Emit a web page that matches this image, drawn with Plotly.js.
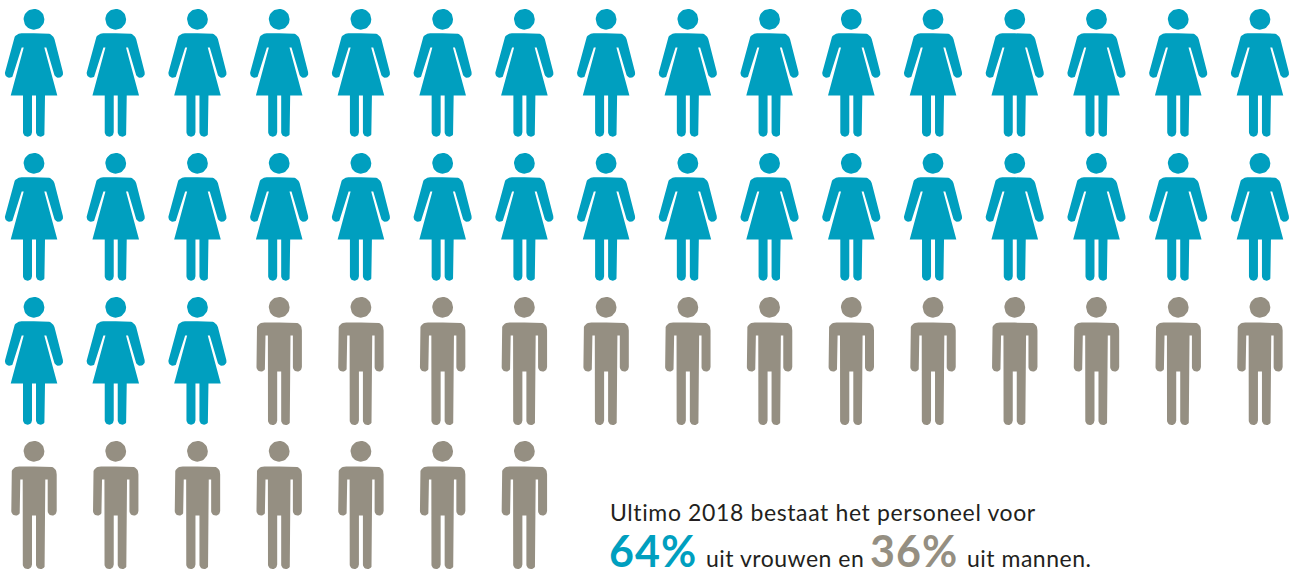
<!DOCTYPE html>
<html>
<head>
<meta charset="utf-8">
<script src="https://cdn.plot.ly/plotly-3.0.1.min.js"></script>
<style>
html,body{margin:0;padding:0;background:#fff;overflow:hidden}
#chart{width:1291px;height:572px}
#chart .annotation[data-index="0"] text{letter-spacing:.62px}
#chart .annotation[data-index="1"] text,#chart .annotation[data-index="3"] text{letter-spacing:1px}
#chart .annotation[data-index="2"] text,#chart .annotation[data-index="4"] text{letter-spacing:.5px}
</style>
</head>
<body>
<div id="chart"></div>
<script>
// Data: how many figures of each kind stand in each row of the pictogram
const rowWomen = [16, 16, 3, 0];
const rowMen = [0, 0, 13, 7];
const introText = "Ultimo 2018 bestaat het personeel voor";
const womenShare = "64%";
const menShare = "36%";
const womenText = "uit vrouwen en";
const menText = "uit mannen.";
const womenColor = "#009FBF";
const menColor = "#958F82";
const textColor = "#231F20";

// Pictogram grid (axis units equal screen pixels)
const originX = 34, originY = 19.3, pitchX = 81.73, pitchY = 144;

function arc(cx, cy, r, a0, a1, n) {
  const out = [];
  for (let i = 0; i <= n; i++) {
    const a = (a0 + (a1 - a0) * i / n) * Math.PI / 180;
    out.push([cx + r * Math.cos(a), cy + r * Math.sin(a)]);
  }
  return out;
}
function quad(p0, c, p1, n) {
  const out = [];
  for (let i = 0; i <= n; i++) {
    const t = i / n, u = 1 - t;
    out.push([u*u*p0[0] + 2*u*t*c[0] + t*t*p1[0], u*u*p0[1] + 2*u*t*c[1] + t*t*p1[1]]);
  }
  return out;
}
const head = arc(0, 0, 10.4, 0, 360, 40);

// Right half outlines, top to bottom; the left half is their mirror image
const womanHalf = [
  [0, 14],
  ...quad([12.5, 14], [18.6, 14], [20.5, 20], 8),
  ...arc(24.6, 54, 4.5, -18, 162, 12),
  [12.3, 28.3], [10.3, 28.3],
  [23.3, 76.3], [11, 76.3],
  ...arc(6.5, 112.9, 4.5, 0, 180, 12),
  [2, 76.3], [0, 76.3]
];
const manHalf = [
  [0, 15.3],
  ...quad([14.7, 15.3], [22.7, 15.3], [22.7, 23.3], 8),
  ...arc(18.2, 59.8, 4.5, 0, 180, 12),
  [13.7, 28.3], [11.3, 28.3],
  ...arc(6.6, 113.2, 4.6, 0, 180, 12),
  [2, 64.3], [0, 64.3]
];
function outline(half) {
  const left = half.slice().reverse().map(p => [-p[0], p[1]]);
  return half.concat(left);
}
const woman = outline(womanHalf);
const man = outline(manHalf);

function figures(glyph, rowCounts, startCols) {
  const xs = [], ys = [];
  rowCounts.forEach((count, row) => {
    for (let i = 0; i < count; i++) {
      const cx = originX + (startCols[row] + i) * pitchX;
      const cy = originY + row * pitchY;
      [head, glyph].forEach(path => {
        path.forEach(p => { xs.push(cx + p[0]); ys.push(cy + p[1]); });
        xs.push(null); ys.push(null);
      });
    }
  });
  return {x: xs, y: ys};
}
const trace = (pts, color, name) => ({
  type: "scatter", mode: "lines", name, x: pts.x, y: pts.y,
  fill: "toself", fillcolor: color, line: {width: 0, color},
  hoverinfo: "skip", showlegend: false
});

const note = (x, y, text, size, color, weight) => ({
  x, y, text, xref: "x", yref: "y", xanchor: "left", yanchor: "middle",
  showarrow: false, borderpad: 0, align: "left",
  font: {family: "Lato, 'Open Sans', sans-serif", size, color, weight: weight || 400}
});

const data = [
  trace(figures(woman, rowWomen, rowWomen.map(() => 0)), womenColor, "vrouwen"),
  trace(figures(man, rowMen, rowWomen), menColor, "mannen")
];
const layout = {
  width: 1291, height: 572,
  margin: {l: 0, r: 0, t: 0, b: 0},
  paper_bgcolor: "#fff", plot_bgcolor: "#fff",
  xaxis: {range: [0, 1291], visible: false, fixedrange: true},
  yaxis: {range: [572, 0], visible: false, fixedrange: true},
  annotations: [
    note(609, 512, introText, 23, textColor),
    note(608, 550.5, womenShare, 43, womenColor, 700),
    note(705, 558, womenText, 23, textColor),
    note(869, 550.5, menShare, 43, menColor, 700),
    note(966, 558, menText, 23, textColor)
  ]
};
Plotly.newPlot("chart", data, layout, {staticPlot: true, displayModeBar: false});
</script>
</body>
</html>
